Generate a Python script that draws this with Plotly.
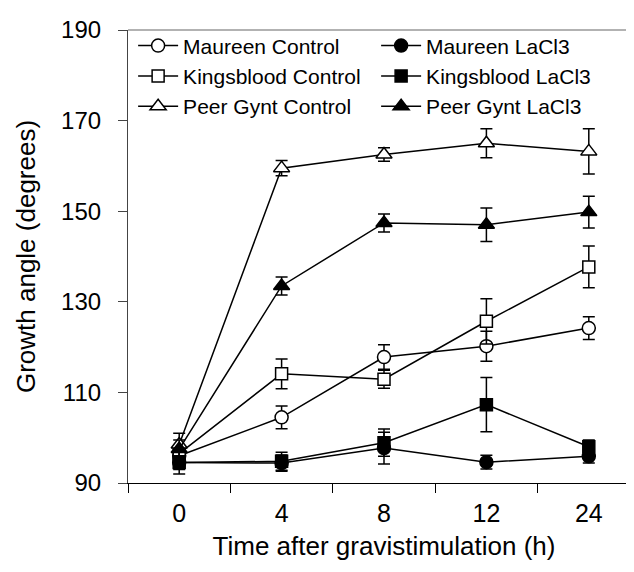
import plotly.graph_objects as go

times = ["0", "4", "8", "12", "24"]

maureen_control = [96.0, 104.5, 117.8, 120.2, 124.2]
maureen_control_err = [1.5, 2.5, 2.7, 3.3, 2.5]
maureen_lacl3 = [94.5, 94.4, 97.7, 94.6, 95.9]
maureen_lacl3_err = [1.5, 1.8, 3.5, 1.5, 1.5]
kingsblood_control = [96.5, 114.1, 112.9, 125.7, 137.7]
kingsblood_control_err = [1.5, 3.3, 2.0, 5.0, 4.6]
kingsblood_lacl3 = [94.5, 94.8, 98.9, 107.3, 98.0]
kingsblood_lacl3_err = [2.5, 2.0, 3.0, 6.0, 1.5]
peer_control = [98.5, 159.5, 162.5, 165.0, 163.2]
peer_control_err = [2.5, 1.7, 1.5, 3.2, 5.0]
peer_lacl3 = [97.5, 133.5, 147.4, 147.0, 149.8]
peer_lacl3_err = [2.0, 2.0, 2.0, 3.7, 3.5]

series = [
    ("Maureen Control", maureen_control, maureen_control_err, "circle", "white"),
    ("Maureen LaCl3", maureen_lacl3, maureen_lacl3_err, "circle", "black"),
    ("Kingsblood Control", kingsblood_control, kingsblood_control_err, "square", "white"),
    ("Kingsblood LaCl3", kingsblood_lacl3, kingsblood_lacl3_err, "square", "black"),
    ("Peer Gynt Control", peer_control, peer_control_err, "triangle-up", "white"),
    ("Peer Gynt LaCl3", peer_lacl3, peer_lacl3_err, "triangle-up", "black"),
]

FONT = "Arial, Liberation Sans, sans-serif"

fig = go.Figure()
for name, y, err, sym, fill in series:
    size = 14 if sym == "triangle-up" else (12 if sym == "square" else 13)
    fig.add_trace(go.Scatter(
        x=times, y=y, name=name, mode="lines+markers",
        line=dict(color="black", width=1.5),
        marker=dict(symbol=sym, size=size, color=fill,
                    line=dict(color="black", width=1.5)),
        error_y=dict(type="data", array=err, visible=True,
                     color="black", thickness=1.5, width=6),
    ))

fig.update_layout(
    width=634, height=572,
    margin=dict(l=120, r=2, t=22, b=97),
    paper_bgcolor="white", plot_bgcolor="white",
    font=dict(family=FONT, size=21, color="black"),
    showlegend=True,
    legend=dict(
        orientation="h", x=0.01, y=1.01, xanchor="left", yanchor="top",
        xref="paper", yref="paper",
        entrywidth=188, entrywidthmode="pixels",
        font=dict(family=FONT, size=21, color="black"),
        bgcolor="rgba(0,0,0,0)", itemwidth=40,
    ),
    xaxis=dict(
        type="category", range=[-0.5, 4.5], tickson="boundaries",
        showline=True, linecolor="black", linewidth=1.2,
        ticks="outside", ticklen=9, tickcolor="black", tickwidth=1.2,
        ticklabelstandoff=8,
        showgrid=False, zeroline=False,
        title=dict(text="Time after gravistimulation (h)", standoff=10,
                   font=dict(size=26)),
        tickfont=dict(size=25),
    ),
    yaxis=dict(
        range=[90, 190], tickvals=[90, 110, 130, 150, 170, 190],
        showline=True, linecolor="#444444", linewidth=1.2,
        ticks="outside", ticklen=9, tickcolor="#444444", tickwidth=1.2,
        ticklabelstandoff=12,
        showgrid=False, zeroline=False,
        title=dict(text="Growth angle (degrees)", standoff=17,
                   font=dict(size=26)),
        tickfont=dict(size=24),
    ),
)
fig.add_shape(type="line", xref="paper", yref="paper", x0=0, x1=1, y0=1, y1=1,
              line=dict(color="#999999", width=1.5))

fig.write_html("out.html")
